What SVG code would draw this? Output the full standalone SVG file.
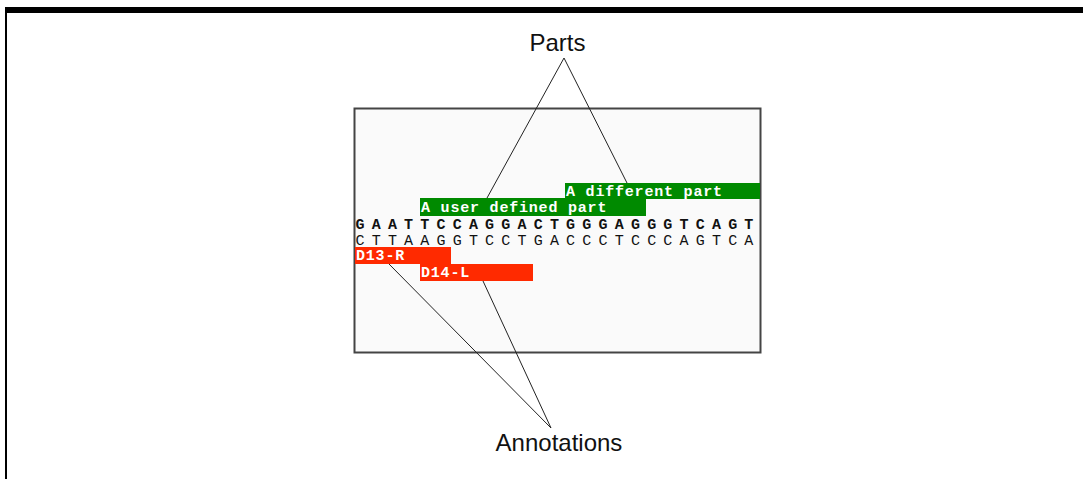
<svg xmlns="http://www.w3.org/2000/svg" width="1083" height="479" viewBox="0 0 1083 479">
  <style>
    .callout { font-family: "Liberation Sans", Arial, sans-serif; font-size: 24px; fill: #111; }
    .lbl { font-family: "Liberation Mono", "Courier New", monospace; font-size: 15px; font-weight: bold; fill: #fff; letter-spacing: 0.8px; }
    .seq { font-family: "Liberation Mono", "Courier New", monospace; font-size: 15px; fill: #111; letter-spacing: 7.2px; }
    .part { fill: #008a00; }
    .anno { fill: #ff2a00; }
    .lead { stroke: #222; stroke-width: 1; fill: none; }
  </style>

  <rect width="1083" height="479" fill="#fff"/>

  <!-- outer frame: heavy top rule and thin left rule -->
  <rect x="5" y="7" width="1078" height="6" fill="#000"/>
  <rect x="5" y="7" width="2" height="472" fill="#000"/>

  <!-- sequence viewer panel -->
  <g id="viewer">
    <rect x="354.5" y="108.5" width="406" height="244" fill="#fafafa" stroke="#444" stroke-width="2"/>
    <text class="seq" x="355.5" y="228.5" font-weight="bold">GAATTCCAGGACTGGGAGGGTCAGT</text>
    <text class="seq" x="355.5" y="244.5">CTTAAGGTCCTGACCCTCCCAGTCA</text>
  </g>

  <g id="part-different">
    <rect class="part" x="565" y="183" width="195" height="16"/>
    <text class="lbl" x="566" y="196">A different part</text>
  </g>

  <g id="part-user">
    <rect class="part" x="420" y="198" width="226" height="18"/>
    <text class="lbl" x="421" y="211.5">A user defined part</text>
  </g>

  <g id="anno-d13r">
    <rect class="anno" x="355" y="247" width="96" height="17"/>
    <text class="lbl" x="356" y="260">D13-R</text>
  </g>

  <g id="anno-d14l">
    <rect class="anno" x="420" y="264" width="113" height="17"/>
    <text class="lbl" x="421" y="277">D14-L</text>
  </g>

  <g id="label-parts">
    <text class="callout" x="557.5" y="51" text-anchor="middle">Parts</text>
  </g>

  <g id="label-annotations">
    <text class="callout" x="559" y="451" text-anchor="middle">Annotations</text>
  </g>

  <!-- leader lines -->
  <g id="connectors" class="lead">
    <line x1="564" y1="58" x2="487" y2="198"/>
    <line x1="564" y1="58" x2="627" y2="183"/>
    <line x1="389" y1="264" x2="551" y2="428"/>
    <line x1="483" y1="281" x2="551" y2="428"/>
  </g>
</svg>
